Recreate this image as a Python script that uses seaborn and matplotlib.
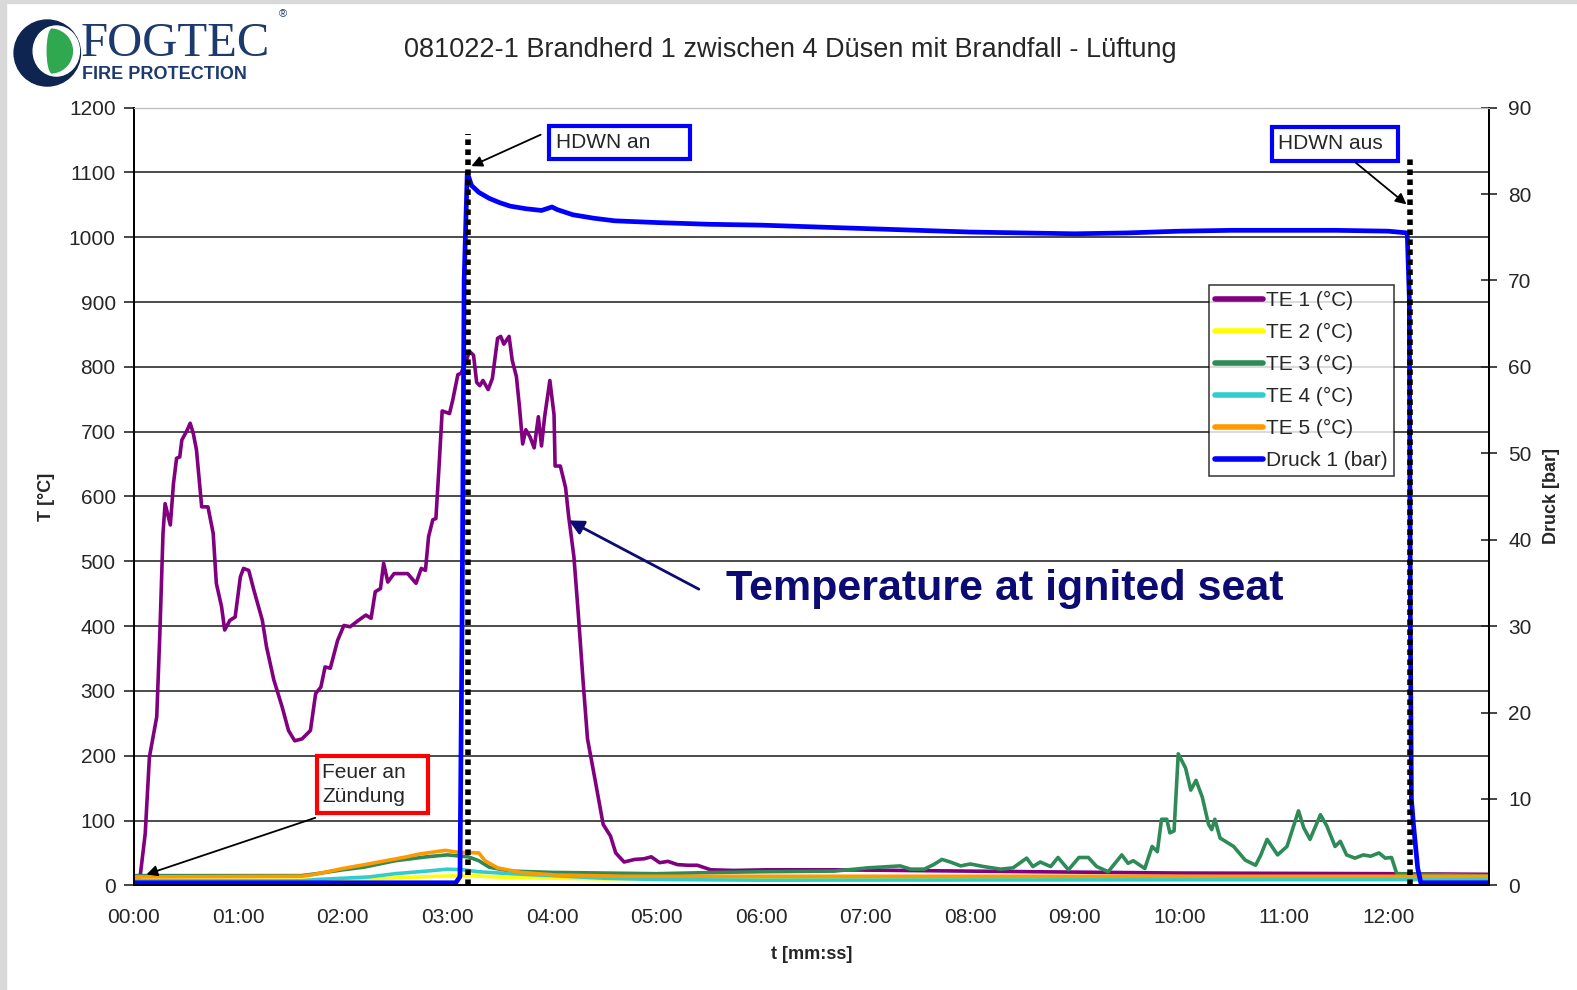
import numpy as np
import pandas as pd
import seaborn as sns
import matplotlib.pyplot as plt
from matplotlib.patches import Rectangle, Circle, Wedge, Ellipse
from matplotlib.ticker import FuncFormatter, MultipleLocator

# Messdaten (Zeit in Minuten, Temperatur in °C, Druck in bar)
te1_t = [0, 0.06, 0.11, 0.15, 0.22, 0.25, 0.28, 0.30, 0.35, 0.38, 0.41, 0.44, 0.46, 0.51, 0.54,
         0.57, 0.60, 0.65, 0.71, 0.76, 0.79, 0.84, 0.87, 0.92, 0.97, 1.02, 1.05, 1.10, 1.15, 1.23,
         1.27, 1.34, 1.42, 1.48, 1.54, 1.61, 1.69, 1.74, 1.79, 1.83, 1.88, 1.95, 2.01, 2.07, 2.15,
         2.22, 2.27, 2.31, 2.36, 2.39, 2.43, 2.49, 2.55, 2.62, 2.70, 2.75, 2.79, 2.82, 2.86, 2.89,
         2.92, 2.95, 3.02, 3.05, 3.10, 3.13, 3.18, 3.21, 3.25, 3.28, 3.31, 3.34, 3.39, 3.43, 3.48,
         3.51, 3.54, 3.59, 3.62, 3.66, 3.69, 3.72, 3.75, 3.79, 3.83, 3.87, 3.90, 3.93, 3.98, 4.02,
         4.03, 4.08, 4.13, 4.16, 4.21, 4.25, 4.30, 4.34, 4.41, 4.49, 4.56, 4.61, 4.69, 4.79, 4.88,
         4.95, 5.03, 5.11, 5.20, 5.30, 5.39, 5.52, 5.74, 6.06, 6.70, 7.33, 7.97, 8.61, 10.0, 12.0,
         12.96]
te1_v = [10, 12, 80, 198, 260, 389, 543, 589, 556, 620, 659, 661, 687, 702, 713,
         697, 672, 584, 584, 543, 466, 430, 394, 409, 414, 476, 489, 486, 455, 409,
         368, 317, 275, 239, 223, 226, 239, 296, 306, 337, 335, 378, 401, 399, 409,
         417, 412, 453, 458, 497, 468, 481, 481, 481, 466, 489, 486, 538, 564, 566,
         646, 732, 728, 748, 788, 790, 809, 824, 818, 776, 771, 779, 765, 782, 844,
         847, 835, 847, 810, 785, 737, 681, 703, 692, 675, 723, 678, 723, 779, 726,
         647, 647, 614, 569, 507, 423, 310, 226, 165, 94, 76, 50, 36, 40, 41,
         44, 35, 37, 32, 31, 31, 24, 23, 24, 24, 23, 22, 21, 19, 18,
         17]

te2_t = [0, 1.5, 2.3, 2.9, 3.2, 3.6, 4.5, 6.0, 12.96]
te2_v = [8, 8, 10, 14, 15, 12, 10, 10, 10]

te3_t = [0, 1.6, 1.75, 2.0, 2.2, 2.5, 2.8, 3.0, 3.2, 3.3, 3.4, 3.6, 4.0, 5.0, 5.6, 6.0, 6.7, 6.9,
         7.02, 7.33, 7.43, 7.56, 7.65, 7.73, 7.81, 7.91, 8.0, 8.13, 8.29, 8.41, 8.54, 8.60, 8.67,
         8.77, 8.84, 8.94, 9.04, 9.13, 9.21, 9.32, 9.45, 9.51, 9.56, 9.67, 9.74, 9.79, 9.83, 9.88,
         9.91, 9.95, 9.99, 10.06, 10.11, 10.16, 10.22, 10.28, 10.31, 10.34, 10.39, 10.52, 10.63,
         10.73, 10.78, 10.84, 10.94, 11.03, 11.14, 11.19, 11.25, 11.35, 11.41, 11.49, 11.54, 11.60,
         11.68, 11.76, 11.83, 11.91, 11.97, 12.03, 12.08, 12.96]
te3_v = [15, 15, 18, 24, 28, 38, 44, 47, 44, 38, 28, 22, 20, 18, 20, 21, 22, 25,
         27, 30, 25, 25, 32, 40, 36, 30, 33, 29, 25, 27, 42, 29, 36,
         29, 43, 24, 43, 43, 29, 21, 47, 34, 38, 26, 60, 52, 102, 102,
         81, 84, 203, 181, 147, 162, 136, 94, 86, 102, 73, 60, 39,
         31, 47, 71, 47, 60, 115, 89, 71, 109, 92, 60, 68, 47,
         42, 47, 45, 50, 42, 43, 18, 15]

te4_t = [0, 1.6, 1.75, 2.0, 2.25, 2.5, 2.8, 3.0, 3.15, 3.3, 3.6, 4.0, 4.5, 5.0, 6.0, 12.96]
te4_v = [7, 7, 9, 11, 13, 18, 22, 25, 24, 21, 18, 15, 11, 9, 8, 9]

te5_t = [0, 1.6, 1.7, 2.0, 2.21, 2.61, 2.72, 2.98, 3.1, 3.3, 3.36, 3.48, 3.7, 4.03, 4.7, 12.96]
te5_v = [13, 14, 16, 26, 32, 44, 48, 54, 51, 50, 38, 27, 20, 16, 14, 14]

druck_t = [0, 3.08, 3.12, 3.14, 3.16, 3.19, 3.23, 3.3, 3.4, 3.5, 3.6, 3.75, 3.9, 4.0, 4.05, 4.2,
           4.4, 4.6, 5.0, 5.5, 6.0, 6.5, 7.0, 7.5, 8.0, 8.5, 9.0, 9.5, 10.0, 10.5, 11.0, 11.5,
           12.0, 12.18, 12.2, 12.21, 12.22, 12.24, 12.26, 12.28, 12.31, 12.96]
druck_v = [0.3, 0.3, 1, 30, 70, 82.5, 81, 80.2, 79.5, 79, 78.6, 78.3, 78.1, 78.5, 78.2, 77.6,
           77.2, 76.9, 76.7, 76.5, 76.4, 76.2, 76.0, 75.8, 75.6, 75.5, 75.4, 75.5, 75.7, 75.8, 75.8, 75.8,
           75.7, 75.5, 68, 30, 10, 7, 4.5, 2, 0.3, 0.3]

serien = [("TE 1 (°C)", te1_t, te1_v, "#800080"),
          ("TE 2 (°C)", te2_t, te2_v, "#ffff00"),
          ("TE 3 (°C)", te3_t, te3_v, "#2e8b57"),
          ("TE 4 (°C)", te4_t, te4_v, "#33cccc"),
          ("TE 5 (°C)", te5_t, te5_v, "#ff9900")]

hdwn_an = 3.2 * 60
hdwn_aus = 12.21 * 60

sns.set_style("white")
plt.rcParams['font.family'] = ['Liberation Sans', 'DejaVu Sans']

fig = plt.figure(figsize=(15.77, 9.90), dpi=100)
ax = fig.add_axes([0.0848, 0.1057, 0.8597, 0.7856])
ax2 = ax.twinx()

for name, t, v, farbe in serien:
    df = pd.DataFrame({"t": np.array(t) * 60, "v": v})
    sns.lineplot(data=df, x="t", y="v", ax=ax, color=farbe, lw=2.6, sort=False,
                 estimator=None, label=name, legend=False)

df_p = pd.DataFrame({"t": np.array(druck_t) * 60, "v": druck_v})
sns.lineplot(data=df_p, x="t", y="v", ax=ax2, color="#0000ff", lw=3.4, sort=False,
             estimator=None, label="Druck 1 (bar)", legend=False)

# HDWN Linien
ax2.plot([hdwn_an, hdwn_an], [0, 1160 * 0.075], color="black", lw=4, ls=(0, (1, 0.8)), zorder=5)
ax2.plot([hdwn_aus, hdwn_aus], [0, 1123 * 0.075], color="black", lw=4, ls=(0, (1, 0.8)), zorder=5)

# Achsen
ax.set_xlim(0, 778)
ax.set_ylim(0, 1200)
ax2.set_ylim(0, 90)
ax.xaxis.set_major_locator(MultipleLocator(60))
ax.xaxis.set_minor_locator(MultipleLocator(30))
ax.xaxis.set_major_formatter(FuncFormatter(lambda x, p: f"{int(x // 60):02d}:{int(round(x % 60)):02d}"))
ax.yaxis.set_major_locator(MultipleLocator(100))
ax2.yaxis.set_major_locator(MultipleLocator(10))
ax.grid(axis="y", color="#1a1a1a", lw=1.1)
ax.tick_params(axis="x", which="major", direction="out", length=7, width=1.2, labelsize=15, pad=9)
ax.tick_params(axis="x", which="minor", direction="in", length=6, width=1.2)
ax.tick_params(axis="y", direction="out", length=7, width=1.2, labelsize=15, pad=6, left=True)
ax2.tick_params(axis="y", direction="inout", length=11, width=1.2, labelsize=15, pad=8, right=True)
for a in (ax, ax2):
    for s in ("left", "right", "bottom"):
        a.spines[s].set_color("black")
        a.spines[s].set_linewidth(1.3)
    a.spines["top"].set_color("#bbbbbb")
    a.spines["top"].set_linewidth(0.8)
ax.set_xlabel("t [mm:ss]", fontsize=13, fontweight="bold", labelpad=14)
ax.set_ylabel("T [°C]", fontsize=13, fontweight="bold", labelpad=10)
ax2.set_ylabel("Druck [bar]", fontsize=13, fontweight="bold", labelpad=8)

# Legende
h1, l1 = ax.get_legend_handles_labels()
h2, l2 = ax2.get_legend_handles_labels()
leg = ax2.legend(h1 + h2, l1 + l2, loc="upper right", bbox_to_anchor=(0.9295, 0.772),
                 fontsize=15, frameon=True, fancybox=False, edgecolor="black",
                 handlelength=2.3, handletextpad=0.15, labelspacing=0.62, borderpad=0.3,
                 borderaxespad=0)
leg.get_frame().set_linewidth(1.1)
for ln in leg.get_lines():
    ln.set_linewidth(4)

# Beschriftungen
ax.add_patch(Rectangle((238.5, 1121), 80.8, 51, fill=False, ec="#0000ff", lw=3, zorder=6))
ax.text(242.5, 1146, "HDWN an", fontsize=15, va="center", ha="left", zorder=7)
ax.annotate("", xy=(192.3, 1108), xytext=(235, 1160),
            arrowprops=dict(arrowstyle="-|>", color="black", lw=1.3, mutation_scale=16), zorder=7)

ax.add_patch(Rectangle((653.1, 1118), 72.2, 52, fill=False, ec="#0000ff", lw=3, zorder=6))
ax.text(656.6, 1144, "HDWN aus", fontsize=15, va="center", ha="left", zorder=7)
ax.annotate("", xy=(731.6, 1048), xytext=(699.9, 1118),
            arrowprops=dict(arrowstyle="-|>", color="black", lw=1.3, mutation_scale=16), zorder=7)

ax.add_patch(Rectangle((105.1, 111.8), 63.5, 88.4, fc="white", ec="#ff0000", lw=3, zorder=6))
ax.text(108, 156, "Feuer an\nZündung", fontsize=15, va="center", ha="left", linespacing=1.3, zorder=7)
ax.annotate("", xy=(5.8, 15.5), xytext=(105.7, 105.6),
            arrowprops=dict(arrowstyle="-|>", color="black", lw=1.3, mutation_scale=16), zorder=7)

ax.text(340, 458, "Temperature at ignited seat", fontsize=31, fontweight="bold",
        color="#0b0b73", va="center", ha="left", zorder=7)
ax.annotate("", xy=(248.3, 565), xytext=(325.7, 455),
            arrowprops=dict(arrowstyle="-|>", color="#0b0b73", lw=2, mutation_scale=22), zorder=7)

ax.set_zorder(1)
ax2.set_zorder(2)
ax2.patch.set_visible(False)

fig.text(0.501, 0.949, "081022-1 Brandherd 1 zwischen 4 Düsen mit Brandfall - Lüftung",
         fontsize=19.5, ha="center", va="center", fontweight="medium")

# Logo
lax = fig.add_axes([0, 0.905, 0.19, 0.095])
lax.set_xlim(0, 298)
lax.set_ylim(94, 0)
lax.axis("off")
lax.add_patch(Circle((47, 53), 33, color="#0d2550"))
lax.add_patch(Ellipse((56, 51), 46, 50, color="white"))
lax.add_patch(Wedge((50, 51), 22, -80, 80, color="#2fa84f"))
lax.add_patch(Ellipse((52, 51), 10, 44, color="#2fa84f"))
lax.text(80, 44, "FOGTEC", family=["Liberation Serif", "DejaVu Serif"], fontsize=35,
         color="#1c3a6e", va="center", ha="left")
lax.text(82, 74, "FIRE PROTECTION", fontsize=13, fontweight="bold", color="#1c3a6e",
         va="center", ha="left")
lax.text(281, 14, "®", fontsize=8, color="#1c3a6e", va="center", ha="center")

# grauer Rand
fig.patches.append(Rectangle((0, 0), 0.004, 1, transform=fig.transFigure, color="#d9d9d9", zorder=0))
fig.patches.append(Rectangle((0, 0.997), 1, 0.003, transform=fig.transFigure, color="#d9d9d9", zorder=0))

fig.savefig("out.png", dpi=100)
